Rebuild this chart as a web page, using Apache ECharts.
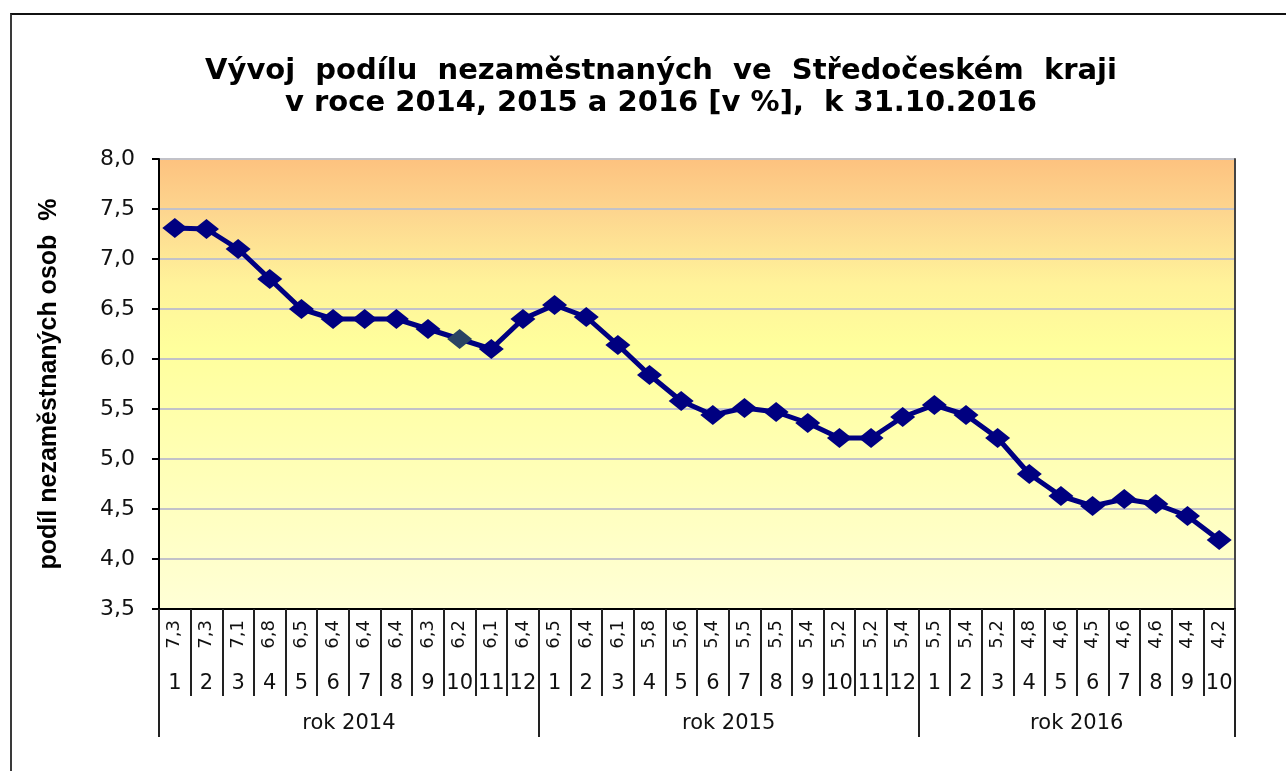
<!DOCTYPE html>
<html><head><meta charset="utf-8">
<script src="https://cdn.jsdelivr.net/npm/echarts@6/dist/echarts.min.js"></script>
<style>
html,body{margin:0;padding:0;background:#fff;overflow:hidden}
#frame{position:absolute;left:10px;top:13px;width:1400px;height:900px;border-left:2px solid #3a3a3a;border-top:2px solid #111;box-sizing:border-box}
#chart{position:absolute;left:0;top:0;width:1286px;height:771px}
</style></head><body>
<div id="frame"></div>
<div id="chart"></div>
<script>
// ---- data ----
const years = ['rok 2014', 'rok 2015', 'rok 2016'];
const months2014 = ['1','2','3','4','5','6','7','8','9','10','11','12'];
const months2015 = ['1','2','3','4','5','6','7','8','9','10','11','12'];
const months2016 = ['1','2','3','4','5','6','7','8','9','10'];
const values2014 = [7.31, 7.30, 7.10, 6.80, 6.50, 6.40, 6.40, 6.40, 6.30, 6.20, 6.10, 6.40];
const values2015 = [6.54, 6.42, 6.14, 5.84, 5.58, 5.44, 5.51, 5.47, 5.36, 5.21, 5.21, 5.42];
const values2016 = [5.54, 5.44, 5.21, 4.85, 4.63, 4.53, 4.60, 4.55, 4.43, 4.19];
const printed2014 = ['7,3','7,3','7,1','6,8','6,5','6,4','6,4','6,4','6,3','6,2','6,1','6,4'];
const printed2015 = ['6,5','6,4','6,1','5,8','5,6','5,4','5,5','5,5','5,4','5,2','5,2','5,4'];
const printed2016 = ['5,5','5,4','5,2','4,8','4,6','4,5','4,6','4,6','4,4','4,2'];
const yTicks = { min: 3.5, max: 8.0, step: 0.5 };
const titleLine1 = 'Vývoj  podílu  nezaměstnaných  ve  Středočeském  kraji';
const titleLine2 = 'v roce 2014, 2015 a 2016 [v %],  k 31.10.2016';
const yName = 'podíl nezaměstnaných osob  %';

// ---- derived ----
const monthGroups = [months2014, months2015, months2016];
const categories = [].concat(months2014, months2015, months2016);
const values = [].concat(values2014, values2015, values2016);
const printed = [].concat(printed2014, printed2015, printed2016);
const groupStarts = [];
const yearLabelAt = {};
let acc = 0;
monthGroups.forEach((g, i) => {
  groupStarts.push(acc);
  yearLabelAt[acc + Math.floor(g.length / 2)] = years[i];
  acc += g.length;
});
const highlightIndex = 9; // 2014 month 10 drawn in a different shade
const seriesData = values.map((v, i) => i === highlightIndex
  ? { value: v, itemStyle: { color: '#2b4363' } } : v);

const band = (1286 - 159 - 51) / categories.length;
const fmt = v => v.toFixed(1).replace('.', ',');

const chart = echarts.init(document.getElementById('chart'));
chart.setOption({
  animation: false,
  title: {
    text: titleLine1 + '\n' + titleLine2,
    left: 661,
    textAlign: 'center',
    top: 55,
    padding: 0,
    textStyle: {
      fontFamily: 'DejaVu Sans', fontWeight: 'bold', fontSize: 29,
      lineHeight: 32, color: '#000'
    }
  },
  grid: {
    left: 159, right: 51, top: 159, bottom: 162,
    show: true, borderWidth: 0,
    backgroundColor: {
      type: 'linear', x: 0, y: 0, x2: 0, y2: 1,
      colorStops: [
        { offset: 0, color: '#fdc27f' },
        { offset: 0.12, color: '#fdd68f' },
        { offset: 0.28, color: '#fff39a' },
        { offset: 0.42, color: '#ffff9c' },
        { offset: 1, color: '#ffffd6' }
      ]
    }
  },
  xAxis: [
    {
      type: 'category', data: categories, position: 'bottom',
      axisLine: { show: true, lineStyle: { color: '#000', width: 2 } },
      axisTick: { show: true, interval: 0, length: 87, lineStyle: { color: '#222', width: 2 } },
      axisLabel: {
        interval: 0, rotate: 90, margin: 11,
        fontFamily: 'DejaVu Sans', fontSize: 18, color: '#111',
        formatter: (v, i) => printed[i]
      }
    },
    {
      type: 'category', data: categories, position: 'bottom',
      axisLine: { show: false }, axisTick: { show: false },
      axisLabel: {
        interval: 0, margin: 64,
        fontFamily: 'DejaVu Sans', fontSize: 21, color: '#111'
      }
    },
    {
      type: 'category', data: categories, position: 'bottom',
      axisLine: { show: false },
      axisTick: {
        show: true, length: 128,
        interval: (i) => groupStarts.indexOf(i) >= 0,
        lineStyle: { color: '#222', width: 2 }
      },
      axisLabel: {
        interval: (i) => yearLabelAt[i] !== undefined,
        margin: 104, padding: [0, band, 0, 0],
        fontFamily: 'DejaVu Sans', fontSize: 21, color: '#111',
        formatter: (v, i) => yearLabelAt[i] || ''
      }
    }
  ],
  yAxis: [
    {
      type: 'value', min: yTicks.min, max: yTicks.max, interval: yTicks.step,
      name: yName, nameLocation: 'middle', nameGap: 97,
      nameTextStyle: { fontFamily: 'Liberation Sans', fontWeight: 'bold', fontSize: 25, color: '#000' },
      axisLine: { show: true, lineStyle: { color: '#000', width: 2 } },
      axisTick: { show: true, length: 7, lineStyle: { color: '#000', width: 2 } },
      axisLabel: { margin: 24, fontFamily: 'DejaVu Sans', fontSize: 22, color: '#111', formatter: fmt },
      splitLine: { show: true, lineStyle: { color: '#c2c2c8', width: 2 } }
    },
    {
      type: 'value', min: yTicks.min, max: yTicks.max, interval: yTicks.step, position: 'right',
      axisLine: { show: true, lineStyle: { color: '#444', width: 2 } },
      axisTick: { show: false }, axisLabel: { show: false }, splitLine: { show: false }
    }
  ],
  series: [{
    type: 'line', data: seriesData, xAxisIndex: 0, yAxisIndex: 0,
    lineStyle: { color: '#000080', width: 5 },
    itemStyle: { color: '#000080' },
    symbol: 'diamond', symbolSize: [25, 20], z: 5
  }]
});
</script>
</body></html>
